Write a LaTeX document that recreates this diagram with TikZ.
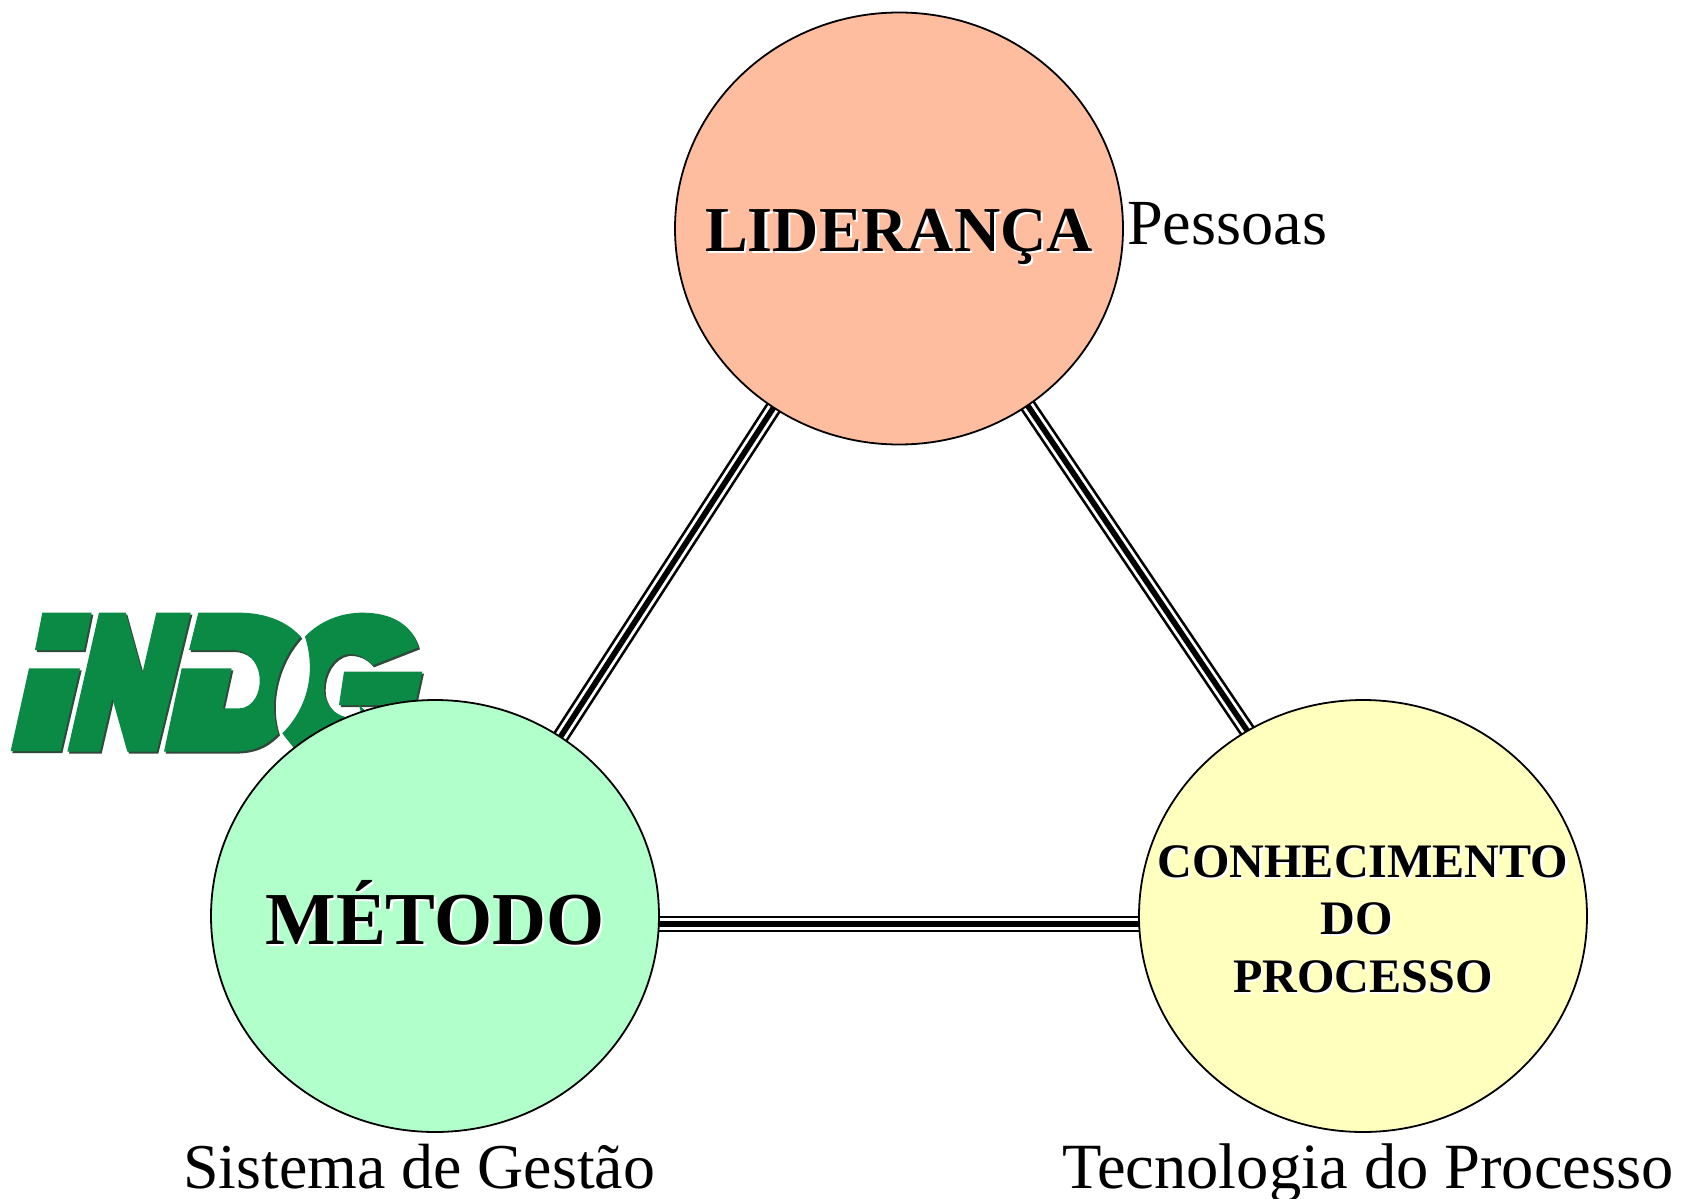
\documentclass[tikz,border=0pt]{standalone}
\usepackage{fontspec}
\setmainfont{Liberation Serif}
\usetikzlibrary{shapes.geometric,backgrounds}
\definecolor{logogreen}{HTML}{0A8A45}
\definecolor{logodark}{HTML}{2F4A3A}
% #1 = vertical offset of the baseline from the centre; zero-size line so the ellipse keeps its size
\newcommand\shtext[2][0pt]{\raisebox{#1}[0pt][0pt]{\makebox[0pt][c]{\rlap{\kern2.2pt\raisebox{-2.2pt}{\textcolor{white}{#2}}}#2}}}
\newcommand\logoshape[1]{%
  \fill[#1] (130,68)--(278,68)--(255,180)--(108,180)--cycle;
  \fill[#1] (90,235)--(243,235)--(185,483)--(35,483)--cycle;
  \fill[#1] (300,68)--(380,68)--(430,250)--(472,68)--(575,68)--(473,485)--(385,485)--(340,325)--(303,485)--(205,485)--cycle;
  \fill[#1] (598,68)--(720,68) .. controls (800,68) and (865,95) .. (905,140)
     .. controls (840,210) and (805,330) .. (838,430)
     .. controls (800,470) and (760,485) .. (700,485)--(495,485)--(548,235)--(698,235)--(672,355)--(720,355)
     .. controls (765,355) and (790,300) .. (780,250)
     .. controls (770,205) and (740,180) .. (700,180)--(570,180)--cycle;
  \fill[#1] (918,140) .. controls (965,90) and (1030,68) .. (1090,68)
     .. controls (1180,68) and (1240,105) .. (1258,172)--(1120,226)
     .. controls (1100,200) and (1070,190) .. (1045,192)
     .. controls (1000,200) and (975,250) .. (975,295)
     .. controls (975,345) and (1010,385) .. (1070,385)--(1150,500)--(890,480)--(850,430)
     .. controls (930,350) and (950,240) .. cycle;
  \fill[#1] (1035,245)--(1270,245)--(1248,345)--(1080,345)--(1160,420)--(1100,420)--(1080,345)--(1020,345)--cycle;
}
\tikzset{
  hub/.style={shape=ellipse,draw=black,line width=1.8pt,minimum width=448pt,minimum height=432pt,inner sep=0pt,align=center},
  caption/.style={anchor=base west,inner sep=0pt},
  triple/.style={line width=16.7pt,draw=black,
    postaction={draw=white,line width=11.4pt},
    postaction={draw=black,line width=5.7pt},
    shorten >=-6pt,shorten <=-6pt}
}
\begin{document}
\begin{tikzpicture}[x=1pt,y=-1pt]
\useasboundingbox (0,0) rectangle (1681,1199);
% logo, drawn behind the circles
\begin{scope}[shift={(-1,590)},scale=1/3]
  \begin{scope}[shift={(5,6)}]\logoshape{logodark}\end{scope}
  \logoshape{logogreen}
\end{scope}
\node[hub,fill={rgb,255:red,255;green,189;blue,159},font=\bfseries\fontsize{64}{64}\selectfont] (lid) at (899,228.5)
  {\shtext[-22.5pt]{LIDERANÇA}};
\node[hub,fill={rgb,255:red,177;green,255;blue,202},font=\bfseries\fontsize{74.7}{74.7}\selectfont] (met) at (435,916)
  {\shtext[-28.5pt]{MÉTODO}};
\node[hub,fill={rgb,255:red,255;green,255;blue,190},font=\bfseries\fontsize{48.1}{57.5}\selectfont] (con) at (1363,916)
  {\shtext[-18.5pt]{CONHECIMENTO}\\\hspace*{-12.6pt}\shtext[-18.5pt]{DO}\\\shtext[-18.5pt]{PROCESSO}};
\begin{pgfonlayer}{background}
  \draw[triple] (met.55) -- (lid.235);
  \draw[triple] (lid.-54.5) -- (con.122.2);
  \draw[triple] (met.-2.05) -- (con.182.05);
\end{pgfonlayer}
\node[caption,font=\fontsize{64.3}{64.3}\selectfont] (pes) at (1127,244) {Pessoas};
\node[caption,font=\fontsize{63.9}{63.9}\selectfont] (sis) at (183,1188) {Sistema de Gestão};
\node[caption,font=\fontsize{64.5}{64.5}\selectfont] (tec) at (1062,1188) {Tecnologia do Processo};
\end{tikzpicture}
\end{document}
